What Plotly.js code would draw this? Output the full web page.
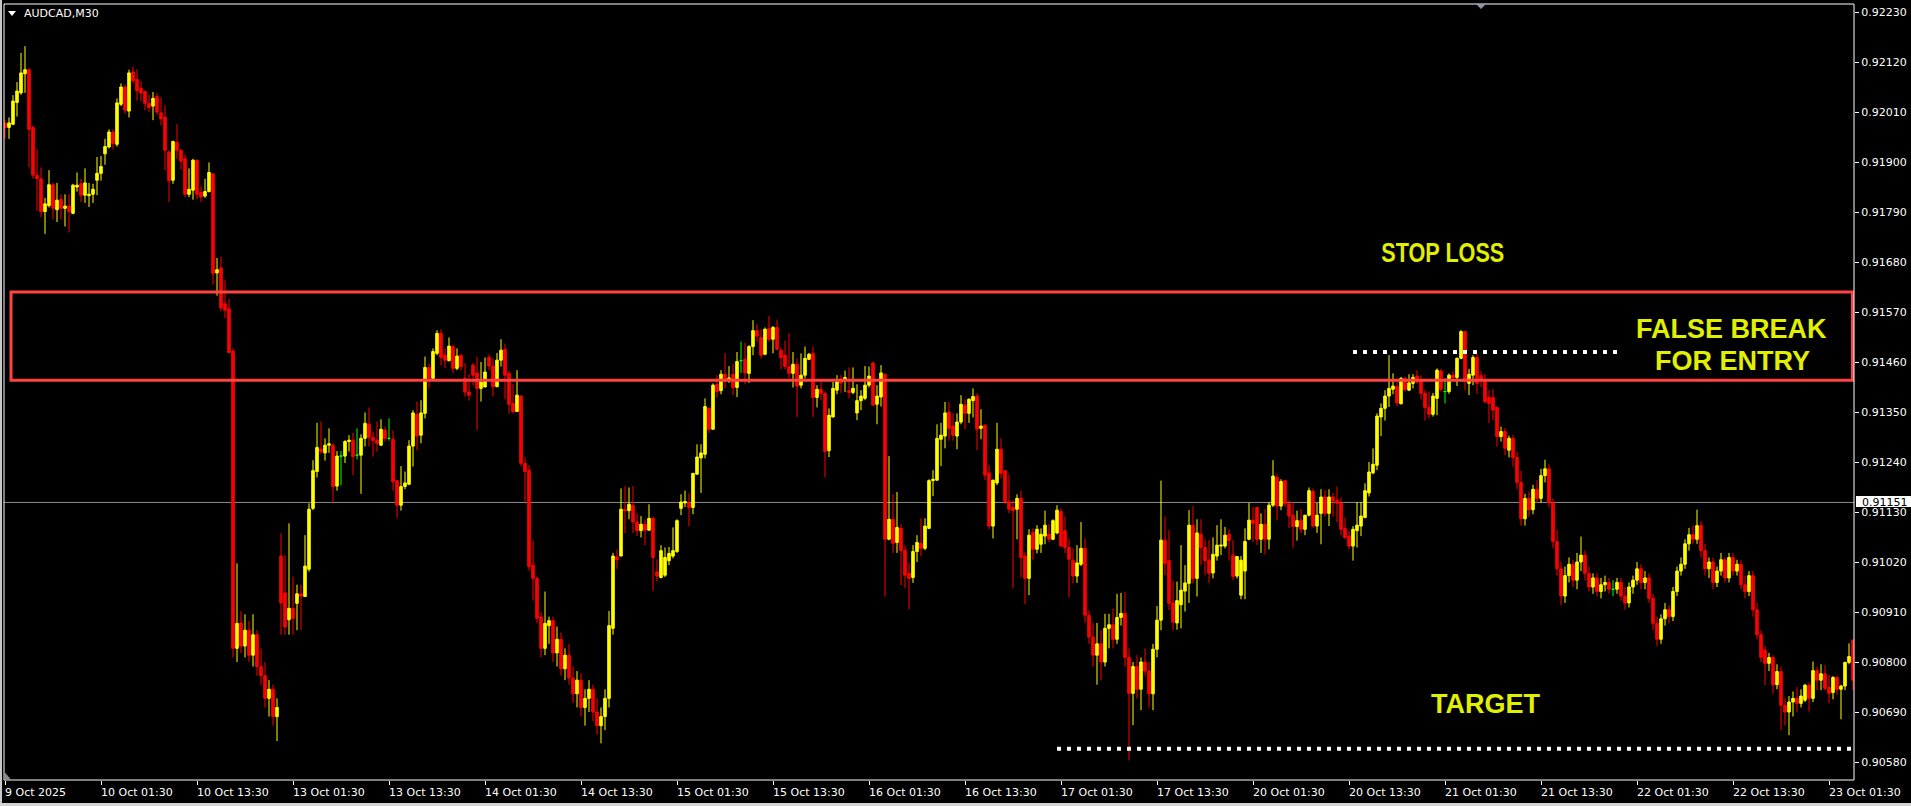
<!DOCTYPE html>
<html>
<head>
<meta charset="utf-8">
<script src="https://cdn.plot.ly/plotly-3.0.1.min.js"></script>
<style>
html,body{margin:0;padding:0;background:#000;overflow:hidden}
#chart{width:1911px;height:806px}
</style>
</head>
<body>
<div id="chart"></div>
<script>
const symbolTitle = "AUDCAD,M30";

const open = [
0.91985,0.91976,0.91983,0.92031,0.92052,0.92094,0.92103,0.91976,0.91871,0.91863,
0.91791,0.91804,0.91850,0.91795,0.91818,0.91798,0.91803,0.91787,0.91845,0.91852,
0.91827,0.91826,0.91829,0.91860,0.91875,0.91918,0.91933,0.91966,0.91939,0.92027,
0.92065,0.92012,0.92098,0.92082,0.92062,0.92055,0.92029,0.92023,0.92044,0.92008,
0.91999,0.91922,0.91860,0.91943,0.91926,0.91907,0.91829,0.91838,0.91904,0.91833,
0.91825,0.91835,0.91874,0.91656,0.91667,0.91588,0.91577,0.91484,0.90830,0.90886,
0.90835,0.90870,0.90815,0.90860,0.90790,0.90770,0.90720,0.90740,0.90680,0.91033,
0.90952,0.90893,0.90918,0.90929,0.90950,0.90944,0.91004,0.91138,0.91219,0.91268,
0.91260,0.91277,0.91277,0.91187,0.91253,0.91253,0.91285,0.91288,0.91255,0.91255,
0.91292,0.91323,0.91294,0.91288,0.91277,0.91310,0.91292,0.91290,0.91199,0.91145,
0.91186,0.91191,0.91275,0.91345,0.91299,0.91347,0.91448,0.91424,0.91479,0.91523,
0.91475,0.91463,0.91494,0.91446,0.91475,0.91424,0.91394,0.91453,0.91436,0.91402,
0.91405,0.91470,0.91451,0.91406,0.91464,0.91488,0.91435,0.91369,0.91351,0.91385,
0.91237,0.91222,0.91013,0.90984,0.90899,0.90830,0.90880,0.90891,0.90820,0.90850,
0.90785,0.90815,0.90765,0.90730,0.90760,0.90700,0.90720,0.90740,0.90690,0.90660,
0.90680,0.90720,0.90874,0.91031,0.91033,0.91136,0.91133,0.91145,0.91108,0.91089,
0.91103,0.91090,0.91116,0.90998,0.90986,0.90991,0.91023,0.91033,0.91043,0.91138,
0.91150,0.91150,0.91140,0.91213,0.91249,0.91257,0.91358,0.91312,0.91411,0.91397,
0.91433,0.91420,0.91433,0.91404,0.91463,0.91466,0.91435,0.91494,0.91529,0.91514,
0.91477,0.91534,0.91510,0.91536,0.91486,0.91475,0.91450,0.91435,0.91455,0.91409,
0.91431,0.91466,0.91479,0.91382,0.91400,0.91391,0.91265,0.91339,0.91398,0.91422,
0.91420,0.91397,0.91393,0.91348,0.91375,0.91380,0.91409,0.91458,0.91367,0.91383,
0.91433,0.91070,0.91114,0.91063,0.91094,0.91046,0.90995,0.90986,0.91043,0.91061,
0.91050,0.91094,0.91199,0.91200,0.91290,0.91297,0.91350,0.91319,0.91297,0.91328,
0.91365,0.91347,0.91375,0.91385,0.91314,0.91321,0.91216,0.91099,0.91194,0.91268,
0.91221,0.91153,0.91140,0.91136,0.91160,0.91033,0.90984,0.91085,0.91048,0.91059,
0.91077,0.91081,0.91070,0.91084,0.91131,0.91089,0.91052,0.91024,0.90989,0.91015,
0.91050,0.90903,0.90855,0.90815,0.90840,0.90800,0.90874,0.90882,0.90850,0.90898,
0.90907,0.90810,0.90731,0.90790,0.90740,0.90800,0.90780,0.90730,0.90828,0.90892,
0.91068,0.91023,0.90930,0.90886,0.90926,0.90956,0.90973,0.91101,0.90984,0.91081,
0.91052,0.91024,0.90996,0.91033,0.91055,0.91055,0.91081,0.91035,0.90989,0.90947,
0.91000,0.91070,0.91112,0.91140,0.91070,0.91103,0.91070,0.91145,0.91206,0.91143,
0.91199,0.91148,0.91123,0.91098,0.91112,0.91092,0.91123,0.91175,0.91099,0.91127,
0.91163,0.91127,0.91163,0.91156,0.91150,0.91094,0.91077,0.91055,0.91089,0.91099,
0.91118,0.91172,0.91216,0.91233,0.91339,0.91358,0.91385,0.91400,0.91406,0.91368,
0.91424,0.91398,0.91413,0.91429,0.91420,0.91391,0.91360,0.91345,0.91380,0.91440,
0.91395,0.91395,0.91431,0.91426,0.91468,0.91527,0.91413,0.91431,0.91470,0.91430,
0.91417,0.91382,0.91382,0.91360,0.91296,0.91307,0.91266,0.91292,0.91250,0.91195,
0.91115,0.91160,0.91135,0.91180,0.91160,0.91210,0.91225,0.91150,0.91065,0.91005,
0.90945,0.90990,0.91015,0.90980,0.91020,0.91035,0.90995,0.90965,0.90985,0.90955,
0.90970,0.90975,0.90960,0.90960,0.90975,0.90945,0.90930,0.90965,0.90980,0.91005,
0.90975,0.90985,0.90940,0.90885,0.90850,0.90895,0.90915,0.90900,0.90955,0.91000,
0.91015,0.91060,0.91080,0.91070,0.91100,0.91045,0.91005,0.91020,0.90975,0.91000,
0.91025,0.90985,0.91030,0.91000,0.91015,0.90970,0.90955,0.90990,0.90915,0.90860,
0.90826,0.90797,0.90810,0.90750,0.90779,0.90705,0.90690,0.90712,0.90720,0.90709,
0.90716,0.90749,0.90720,0.90781,0.90760,0.90774,0.90744,0.90733,0.90766,0.90740,
0.90747,0.90799,0.90848
];

const high = [
0.91992,0.91998,0.92047,0.92076,0.92140,0.92155,0.92107,0.91980,0.91928,0.91888,
0.91821,0.91882,0.91854,0.91854,0.91829,0.91829,0.91829,0.91852,0.91877,0.91863,
0.91886,0.91854,0.91852,0.91911,0.91913,0.91951,0.91972,0.91972,0.92040,0.92073,
0.92071,0.92103,0.92110,0.92104,0.92078,0.92057,0.92048,0.92054,0.92051,0.92042,
0.92025,0.91926,0.91947,0.91983,0.91928,0.91916,0.91886,0.91907,0.91905,0.91846,
0.91863,0.91899,0.91876,0.91689,0.91692,0.91640,0.91599,0.91490,0.91017,0.90912,
0.90905,0.90890,0.90905,0.90870,0.90830,0.90800,0.90760,0.90750,0.90720,0.91083,
0.91035,0.91105,0.90988,0.90970,0.90970,0.91079,0.91149,0.91244,0.91326,0.91329,
0.91292,0.91314,0.91281,0.91264,0.91264,0.91288,0.91299,0.91304,0.91314,0.91301,
0.91349,0.91360,0.91307,0.91329,0.91334,0.91318,0.91336,0.91309,0.91200,0.91231,
0.91219,0.91288,0.91354,0.91373,0.91376,0.91472,0.91457,0.91490,0.91530,0.91532,
0.91490,0.91514,0.91497,0.91490,0.91475,0.91457,0.91433,0.91458,0.91471,0.91460,
0.91470,0.91477,0.91468,0.91480,0.91510,0.91500,0.91441,0.91411,0.91442,0.91387,
0.91250,0.91233,0.91067,0.90988,0.90910,0.90955,0.90900,0.90900,0.90878,0.90865,
0.90830,0.90840,0.90790,0.90780,0.90775,0.90740,0.90760,0.90750,0.90720,0.90700,
0.90740,0.90912,0.91040,0.91047,0.91182,0.91187,0.91184,0.91187,0.91127,0.91121,
0.91114,0.91147,0.91120,0.91026,0.91057,0.91052,0.91053,0.91096,0.91114,0.91169,
0.91177,0.91171,0.91216,0.91279,0.91279,0.91380,0.91360,0.91413,0.91431,0.91442,
0.91480,0.91451,0.91455,0.91482,0.91505,0.91502,0.91497,0.91552,0.91543,0.91532,
0.91536,0.91561,0.91539,0.91553,0.91492,0.91507,0.91523,0.91482,0.91468,0.91479,
0.91494,0.91480,0.91494,0.91409,0.91416,0.91394,0.91358,0.91416,0.91431,0.91431,
0.91441,0.91448,0.91448,0.91411,0.91398,0.91451,0.91450,0.91460,0.91409,0.91453,
0.91435,0.91253,0.91169,0.91174,0.91103,0.91057,0.91017,0.91057,0.91079,0.91116,
0.91116,0.91202,0.91222,0.91323,0.91326,0.91372,0.91372,0.91347,0.91347,0.91387,
0.91378,0.91380,0.91402,0.91391,0.91356,0.91323,0.91233,0.91201,0.91326,0.91292,
0.91222,0.91213,0.91156,0.91169,0.91177,0.91042,0.91092,0.91094,0.91101,0.91094,
0.91133,0.91103,0.91114,0.91145,0.91138,0.91120,0.91070,0.91050,0.91057,0.91108,
0.91072,0.90914,0.90886,0.90886,0.90870,0.90906,0.90906,0.90917,0.90950,0.90952,
0.90955,0.90830,0.90800,0.90815,0.90810,0.90830,0.90800,0.90840,0.90923,0.91199,
0.91120,0.91090,0.90979,0.90977,0.91057,0.91013,0.91134,0.91143,0.91114,0.91114,
0.91070,0.91068,0.91074,0.91101,0.91114,0.91097,0.91092,0.91068,0.91033,0.91033,
0.91094,0.91150,0.91141,0.91141,0.91127,0.91136,0.91152,0.91244,0.91213,0.91202,
0.91200,0.91155,0.91152,0.91133,0.91136,0.91123,0.91184,0.91182,0.91150,0.91180,
0.91178,0.91180,0.91172,0.91186,0.91162,0.91118,0.91089,0.91099,0.91152,0.91152,
0.91193,0.91240,0.91270,0.91347,0.91369,0.91398,0.91475,0.91435,0.91416,0.91427,
0.91427,0.91433,0.91433,0.91442,0.91431,0.91398,0.91395,0.91392,0.91446,0.91445,
0.91425,0.91435,0.91440,0.91470,0.91530,0.91527,0.91445,0.91475,0.91478,0.91440,
0.91433,0.91398,0.91400,0.91362,0.91318,0.91315,0.91298,0.91300,0.91262,0.91220,
0.91170,0.91175,0.91190,0.91200,0.91225,0.91245,0.91235,0.91160,0.91090,0.91020,
0.91010,0.91030,0.91025,0.91040,0.91076,0.91045,0.91010,0.90995,0.90995,0.90985,
0.90990,0.90985,0.90980,0.90985,0.90985,0.90965,0.90975,0.90990,0.91020,0.91015,
0.91000,0.90995,0.90950,0.90900,0.90905,0.90930,0.90925,0.90965,0.91010,0.91030,
0.91070,0.91095,0.91100,0.91135,0.91110,0.91060,0.91030,0.91030,0.91010,0.91040,
0.91030,0.91040,0.91040,0.91025,0.91025,0.90990,0.91000,0.91000,0.90930,0.90870,
0.90835,0.90820,0.90815,0.90795,0.90790,0.90720,0.90725,0.90735,0.90745,0.90740,
0.90752,0.90755,0.90801,0.90790,0.90795,0.90793,0.90771,0.90769,0.90770,0.90750,
0.90801,0.90841,0.90850
];

const low = [
0.91951,0.91951,0.91981,0.92000,0.92048,0.92052,0.91888,0.91863,0.91793,0.91779,
0.91742,0.91800,0.91774,0.91768,0.91774,0.91758,0.91745,0.91785,0.91835,0.91812,
0.91810,0.91801,0.91810,0.91827,0.91859,0.91894,0.91930,0.91928,0.91934,0.92023,
0.92006,0.91998,0.92073,0.92035,0.92034,0.92014,0.92010,0.91992,0.92004,0.91981,
0.91882,0.91812,0.91852,0.91907,0.91884,0.91823,0.91823,0.91817,0.91818,0.91812,
0.91821,0.91833,0.91630,0.91606,0.91572,0.91557,0.91480,0.90810,0.90800,0.90820,
0.90810,0.90800,0.90790,0.90770,0.90750,0.90700,0.90680,0.90660,0.90626,0.90860,
0.90860,0.90860,0.90860,0.90870,0.90870,0.90944,0.90999,0.91134,0.91206,0.91258,
0.91243,0.91260,0.91150,0.91177,0.91189,0.91238,0.91263,0.91211,0.91246,0.91170,
0.91274,0.91274,0.91252,0.91263,0.91275,0.91285,0.91287,0.91177,0.91116,0.91133,
0.91180,0.91189,0.91230,0.91266,0.91281,0.91336,0.91402,0.91420,0.91475,0.91453,
0.91446,0.91461,0.91435,0.91442,0.91442,0.91384,0.91375,0.91409,0.91310,0.91373,
0.91405,0.91442,0.91385,0.91404,0.91450,0.91378,0.91347,0.91347,0.91351,0.91231,
0.91153,0.91001,0.90935,0.90885,0.90810,0.90815,0.90840,0.90800,0.90790,0.90770,
0.90760,0.90750,0.90710,0.90700,0.90680,0.90660,0.90690,0.90670,0.90640,0.90621,
0.90650,0.90700,0.90860,0.91005,0.91033,0.91084,0.91114,0.91084,0.91077,0.91074,
0.91057,0.91089,0.90957,0.90977,0.90984,0.90987,0.91013,0.91028,0.91040,0.91123,
0.91141,0.91099,0.91125,0.91213,0.91172,0.91248,0.91304,0.91312,0.91382,0.91389,
0.91402,0.91414,0.91387,0.91383,0.91436,0.91411,0.91414,0.91475,0.91505,0.91468,
0.91475,0.91505,0.91479,0.91486,0.91444,0.91444,0.91424,0.91404,0.91339,0.91402,
0.91424,0.91464,0.91339,0.91360,0.91376,0.91206,0.91251,0.91338,0.91389,0.91392,
0.91394,0.91380,0.91389,0.91332,0.91354,0.91376,0.91404,0.91365,0.91323,0.91362,
0.90944,0.91068,0.91040,0.91040,0.90969,0.90962,0.90916,0.90974,0.91020,0.91033,
0.91046,0.91092,0.91165,0.91199,0.91231,0.91270,0.91287,0.91287,0.91268,0.91323,
0.91312,0.91326,0.91338,0.91266,0.91290,0.91200,0.91092,0.91072,0.91189,0.91204,
0.91148,0.91127,0.90962,0.91070,0.90986,0.90927,0.90947,0.91024,0.91039,0.91040,
0.91059,0.91064,0.91068,0.91081,0.91053,0.91040,0.90942,0.90973,0.90974,0.91011,
0.90886,0.90840,0.90790,0.90750,0.90760,0.90790,0.90830,0.90830,0.90840,0.90880,
0.90790,0.90584,0.90661,0.90720,0.90694,0.90770,0.90700,0.90694,0.90810,0.90870,
0.90991,0.90914,0.90870,0.90871,0.90874,0.90911,0.90930,0.90973,0.90944,0.91013,
0.90991,0.90974,0.90984,0.91023,0.91035,0.91050,0.91023,0.90980,0.90984,0.90938,
0.90938,0.91068,0.91064,0.91057,0.91040,0.91037,0.91048,0.91141,0.91112,0.91134,
0.91141,0.91094,0.91052,0.91067,0.91083,0.91079,0.91120,0.91096,0.91084,0.91059,
0.91120,0.91099,0.91120,0.91108,0.91079,0.91070,0.91048,0.91023,0.91052,0.91077,
0.91116,0.91164,0.91213,0.91222,0.91297,0.91331,0.91361,0.91389,0.91363,0.91367,
0.91395,0.91396,0.91402,0.91413,0.91378,0.91331,0.91336,0.91340,0.91343,0.91395,
0.91369,0.91390,0.91420,0.91407,0.91466,0.91398,0.91387,0.91409,0.91390,0.91405,
0.91369,0.91326,0.91332,0.91274,0.91285,0.91255,0.91250,0.91230,0.91180,0.91100,
0.91100,0.91120,0.91125,0.91150,0.91150,0.91195,0.91140,0.91050,0.90990,0.90925,
0.90930,0.90975,0.90965,0.90960,0.91000,0.90980,0.90955,0.90950,0.90945,0.90940,
0.90955,0.90950,0.90945,0.90950,0.90935,0.90915,0.90920,0.90950,0.90970,0.90960,
0.90960,0.90930,0.90870,0.90835,0.90840,0.90880,0.90885,0.90890,0.90945,0.90990,
0.91005,0.91045,0.91060,0.91060,0.91030,0.90990,0.90985,0.90960,0.90965,0.90990,
0.90975,0.90975,0.90990,0.90990,0.90960,0.90940,0.90945,0.90900,0.90850,0.90800,
0.90749,0.90780,0.90730,0.90740,0.90650,0.90660,0.90639,0.90680,0.90690,0.90700,
0.90712,0.90691,0.90712,0.90738,0.90738,0.90737,0.90709,0.90718,0.90728,0.90674,
0.90738,0.90795,0.90738
];

const close = [
0.91976,0.91986,0.92034,0.92056,0.92096,0.92103,0.91972,0.91871,0.91863,0.91791,
0.91808,0.91850,0.91798,0.91816,0.91798,0.91803,0.91791,0.91849,0.91849,0.91827,
0.91854,0.91829,0.91840,0.91875,0.91890,0.91934,0.91966,0.91941,0.92030,0.92065,
0.92014,0.92096,0.92079,0.92057,0.92052,0.92029,0.92020,0.92040,0.92010,0.91995,
0.91926,0.91859,0.91945,0.91926,0.91902,0.91829,0.91840,0.91904,0.91829,0.91823,
0.91835,0.91877,0.91655,0.91663,0.91579,0.91574,0.91481,0.90830,0.90885,0.90835,
0.90870,0.90815,0.90860,0.90790,0.90770,0.90720,0.90740,0.90680,0.90700,0.90930,
0.90877,0.90918,0.90896,0.90950,0.90945,0.91011,0.91136,0.91221,0.91272,0.91263,
0.91277,0.91280,0.91186,0.91253,0.91253,0.91285,0.91288,0.91252,0.91255,0.91292,
0.91325,0.91294,0.91287,0.91281,0.91312,0.91292,0.91292,0.91197,0.91145,0.91186,
0.91194,0.91275,0.91348,0.91297,0.91348,0.91448,0.91424,0.91483,0.91523,0.91470,
0.91464,0.91495,0.91446,0.91473,0.91450,0.91394,0.91387,0.91431,0.91402,0.91416,
0.91438,0.91451,0.91406,0.91464,0.91486,0.91431,0.91367,0.91351,0.91387,0.91237,
0.91219,0.91010,0.90984,0.90896,0.90830,0.90885,0.90891,0.90820,0.90850,0.90785,
0.90815,0.90765,0.90730,0.90760,0.90700,0.90720,0.90740,0.90690,0.90660,0.90680,
0.90720,0.90880,0.91033,0.91025,0.91136,0.91133,0.91147,0.91108,0.91089,0.91103,
0.91090,0.91116,0.91030,0.90989,0.91045,0.91030,0.91039,0.91045,0.91111,0.91152,
0.91153,0.91140,0.91215,0.91251,0.91260,0.91362,0.91312,0.91409,0.91395,0.91433,
0.91419,0.91425,0.91404,0.91461,0.91463,0.91436,0.91494,0.91529,0.91517,0.91475,
0.91532,0.91510,0.91536,0.91488,0.91470,0.91450,0.91435,0.91455,0.91407,0.91431,
0.91468,0.91477,0.91382,0.91400,0.91391,0.91263,0.91343,0.91402,0.91416,0.91414,
0.91426,0.91393,0.91402,0.91375,0.91385,0.91409,0.91429,0.91365,0.91385,0.91436,
0.91070,0.91114,0.91061,0.91096,0.91045,0.90991,0.90984,0.91043,0.91063,0.91050,
0.91099,0.91199,0.91202,0.91292,0.91299,0.91348,0.91314,0.91299,0.91328,0.91367,
0.91347,0.91378,0.91384,0.91312,0.91319,0.91211,0.91099,0.91200,0.91268,0.91215,
0.91153,0.91136,0.91133,0.91160,0.91030,0.90984,0.91079,0.91048,0.91092,0.91081,
0.91101,0.91070,0.91111,0.91134,0.91055,0.91052,0.91026,0.90989,0.91018,0.91050,
0.90903,0.90855,0.90815,0.90840,0.90800,0.90874,0.90882,0.90850,0.90898,0.90907,
0.90810,0.90731,0.90790,0.90740,0.90800,0.90780,0.90730,0.90828,0.90892,0.91068,
0.91017,0.90929,0.90888,0.90935,0.90958,0.90974,0.91101,0.90984,0.91084,0.91052,
0.91023,0.90995,0.91037,0.91057,0.91057,0.91079,0.91067,0.90988,0.91032,0.91024,
0.91065,0.91112,0.91105,0.91070,0.91103,0.91070,0.91145,0.91209,0.91143,0.91197,
0.91148,0.91121,0.91098,0.91111,0.91092,0.91123,0.91177,0.91099,0.91123,0.91163,
0.91127,0.91163,0.91155,0.91149,0.91092,0.91074,0.91055,0.91092,0.91101,0.91121,
0.91177,0.91218,0.91235,0.91341,0.91358,0.91385,0.91402,0.91407,0.91370,0.91424,
0.91400,0.91414,0.91426,0.91416,0.91391,0.91360,0.91345,0.91385,0.91442,0.91400,
0.91395,0.91431,0.91426,0.91468,0.91527,0.91417,0.91433,0.91470,0.91413,0.91420,
0.91373,0.91369,0.91354,0.91296,0.91307,0.91270,0.91292,0.91250,0.91195,0.91115,
0.91160,0.91135,0.91180,0.91160,0.91210,0.91225,0.91150,0.91065,0.91005,0.90945,
0.90990,0.91015,0.90980,0.91020,0.91035,0.90995,0.90965,0.90985,0.90955,0.90970,
0.90975,0.90960,0.90960,0.90975,0.90945,0.90930,0.90965,0.90980,0.91005,0.90975,
0.90985,0.90940,0.90885,0.90850,0.90895,0.90915,0.90900,0.90955,0.91000,0.91015,
0.91060,0.91080,0.91070,0.91100,0.91045,0.91005,0.91020,0.90975,0.91000,0.91025,
0.90985,0.91030,0.91000,0.91015,0.90970,0.90955,0.90990,0.90915,0.90860,0.90810,
0.90797,0.90810,0.90750,0.90779,0.90705,0.90690,0.90712,0.90720,0.90709,0.90725,
0.90749,0.90720,0.90781,0.90760,0.90774,0.90742,0.90731,0.90766,0.90740,0.90747,
0.90799,0.90812,0.90760
];

const timeTickBars = [0,24,48,72,96,120,144,168,192,216,240,264,288,312,336,360,384,408,432,456];
const timeTickLabels = ["9 Oct 2025","10 Oct 01:30","10 Oct 13:30","13 Oct 01:30","13 Oct 13:30",
  "14 Oct 01:30","14 Oct 13:30","15 Oct 01:30","15 Oct 13:30","16 Oct 01:30","16 Oct 13:30",
  "17 Oct 01:30","17 Oct 13:30","20 Oct 01:30","20 Oct 13:30","21 Oct 01:30","21 Oct 13:30",
  "22 Oct 01:30","22 Oct 13:30","23 Oct 01:30"];
const priceTicks = [0.92230,0.92120,0.92010,0.91900,0.91790,0.91680,0.91570,0.91460,
  0.91350,0.91240,0.91130,0.91020,0.90910,0.90800,0.90690,0.90580];

const zoneTop = 0.91614, zoneBottom = 0.91420;
const markedPrice = 0.91151;
const falseBreakLevel = 0.91482, falseBreakFrom = 337, falseBreakTo = 403;
const targetLevel = 0.90609, targetFrom = 263, targetTo = 461.8;
const labels = {stop: "STOP LOSS", fb1: "FALSE BREAK", fb2: "FOR ENTRY", target: "TARGET"};

// ---- layout geometry (pixels) ----
const W = 1911, H = 806, PL = 4, PR = 1854, PT = 4, PB = 780;
const px = x => (x - PL) / (PR - PL);
const py = y => (PB - y) / (PB - PT);

const idx = open.map((_, i) => i);
const normal = idx.filter(i => open[i] !== close[i]);
const doji = idx.filter(i => open[i] === close[i]);
const pick = (arr, ids) => ids.map(i => arr[i]);

const traces = [
  {
    type: 'candlestick',
    x: normal, open: pick(open, normal), high: pick(high, normal), low: pick(low, normal), close: pick(close, normal),
    increasing: {line: {color: '#ffff00', width: 1}, fillcolor: '#ffff00'},
    decreasing: {line: {color: '#ff0000', width: 1}, fillcolor: '#ff0000'},
    whiskerwidth: 0, hoverinfo: 'skip', showlegend: false
  },
  {
    type: 'candlestick',
    x: doji, open: pick(open, doji), high: pick(high, doji), low: pick(low, doji), close: pick(close, doji),
    increasing: {line: {color: '#00ff00', width: 1}, fillcolor: '#00ff00'},
    decreasing: {line: {color: '#00ff00', width: 1}, fillcolor: '#00ff00'},
    whiskerwidth: 0, hoverinfo: 'skip', showlegend: false
  }
];

const textFont = {family: 'Liberation Sans, Arial, sans-serif', size: 27, color: '#e0f000'};
const axisFont = {family: 'DejaVu Sans, sans-serif', size: 11, color: '#ffffff'};

const annotations = [
  {xref: 'paper', yref: 'paper', x: px(22), y: py(14), xanchor: 'left', yanchor: 'middle',
   text: symbolTitle, showarrow: false, font: axisFont},
  {xref: 'paper', yref: 'paper', x: px(1443), y: py(253), xanchor: 'center', yanchor: 'middle',
   text: '<b>' + labels.stop + '</b>', showarrow: false, font: textFont},
  {xref: 'paper', yref: 'paper', x: px(1731), y: py(329), xanchor: 'center', yanchor: 'middle',
   text: '<b>' + labels.fb1 + '</b>', showarrow: false, font: textFont},
  {xref: 'paper', yref: 'paper', x: px(1732), y: py(361), xanchor: 'center', yanchor: 'middle',
   text: '<b>' + labels.fb2 + '</b>', showarrow: false, font: textFont},
  {xref: 'paper', yref: 'paper', x: px(1485), y: py(704), xanchor: 'center', yanchor: 'middle',
   text: '<b>' + labels.target + '</b>', showarrow: false, font: textFont},
  {xref: 'paper', yref: 'y', x: px(1860), y: markedPrice, xanchor: 'left', yanchor: 'middle',
   text: markedPrice.toFixed(5), showarrow: false, font: {family: 'DejaVu Sans, sans-serif', size: 11, color: '#000000'}}
];
timeTickBars.forEach((b, k) => {
  annotations.push({xref: 'x', yref: 'paper', x: b, y: py(792), xanchor: 'left', yanchor: 'middle',
    xshift: -2, text: timeTickLabels[k], showarrow: false, font: axisFont});
});

const shapes = [
  {type: 'line', xref: 'paper', yref: 'y', x0: 0, x1: 1, y0: markedPrice, y1: markedPrice,
   line: {color: '#8c8c8c', width: 1}, layer: 'below'},
  {type: 'rect', xref: 'paper', yref: 'y', x0: px(11), x1: px(1852.5), y0: zoneBottom, y1: zoneTop,
   line: {color: '#ff4242', width: 3}, fillcolor: 'rgba(0,0,0,0)', layer: 'above'},
  {type: 'line', xref: 'x', yref: 'y', x0: falseBreakFrom, x1: falseBreakTo, y0: falseBreakLevel, y1: falseBreakLevel,
   line: {color: '#ffffff', width: 4, dash: '4px,6px'}, layer: 'above'},
  {type: 'line', xref: 'x', yref: 'y', x0: targetFrom, x1: targetTo, y0: targetLevel, y1: targetLevel,
   line: {color: '#ffffff', width: 4, dash: '4px,6px'}, layer: 'above'},
  {type: 'rect', xref: 'paper', yref: 'paper', x0: 0, x1: 1, y0: 0, y1: 1,
   line: {color: '#ffffff', width: 1}, fillcolor: 'rgba(0,0,0,0)', layer: 'above'},
  {type: 'rect', xref: 'paper', yref: 'paper', x0: px(1856), x1: px(1911), y0: py(507), y1: py(496),
   line: {width: 0}, fillcolor: '#ffffff', layer: 'above'},
  {type: 'path', xref: 'paper', yref: 'paper',
   path: `M ${px(8)},${py(11)} L ${px(16)},${py(11)} L ${px(12)},${py(16)} Z`,
   line: {width: 0}, fillcolor: '#ffffff', layer: 'above'},
  {type: 'path', xref: 'paper', yref: 'paper',
   path: `M ${px(1476)},${py(4)} L ${px(1486)},${py(4)} L ${px(1481)},${py(9)} Z`,
   line: {width: 0}, fillcolor: '#8a96a6', layer: 'above'},
  {type: 'path', xref: 'paper', yref: 'paper',
   path: `M ${px(4.5)},${py(772)} L ${px(4.5)},${py(779.5)} L ${px(11)},${py(779.5)} Z`,
   line: {width: 0}, fillcolor: '#8a8a8a', layer: 'above'},
  {type: 'rect', xref: 'paper', yref: 'paper', x0: px(0), x1: px(2), y0: py(806), y1: py(0),
   line: {width: 0}, fillcolor: '#c8c8c8', layer: 'above'},
  {type: 'rect', xref: 'paper', yref: 'paper', x0: px(0), x1: px(1911), y0: py(806), y1: py(803),
   line: {width: 0}, fillcolor: '#d4d4d4', layer: 'above'}
];

const layout = {
  width: W, height: H,
  margin: {l: PL, r: W - PR, t: PT, b: H - PB, pad: 0},
  paper_bgcolor: '#000000', plot_bgcolor: '#000000',
  showlegend: false, hovermode: false, dragmode: false,
  boxgap: 0.2, boxgroupgap: 0.2,
  xaxis: {
    range: [(PL - 5) / 4, (PR - 5) / 4], type: 'linear',
    showgrid: false, zeroline: false, showline: false,
    tickmode: 'array', tickvals: timeTickBars, showticklabels: false,
    ticks: 'outside', ticklen: 4, tickcolor: '#ffffff', tickwidth: 1,
    rangeslider: {visible: false}, fixedrange: true
  },
  yaxis: {
    side: 'right', range: [0.905404, 0.922476],
    showgrid: false, zeroline: false, showline: false,
    tickmode: 'array', tickvals: priceTicks, ticktext: priceTicks.map(v => v.toFixed(5)),
    ticks: 'outside', ticklen: 4, tickcolor: '#ffffff', tickwidth: 1,
    tickfont: axisFont, fixedrange: true
  },
  annotations: annotations,
  shapes: shapes
};

Plotly.newPlot('chart', traces, layout, {staticPlot: true, displayModeBar: false}).then(() => {
  // the reference draws STOP LOSS in a condensed face: squeeze the same bold text to its width
  document.querySelectorAll('.annotation-text').forEach(t => {
    if (t.textContent === labels.stop) {
      t.setAttribute('textLength', '123');
      t.setAttribute('lengthAdjust', 'spacingAndGlyphs');
    }
  });
});
</script>
</body>
</html>
